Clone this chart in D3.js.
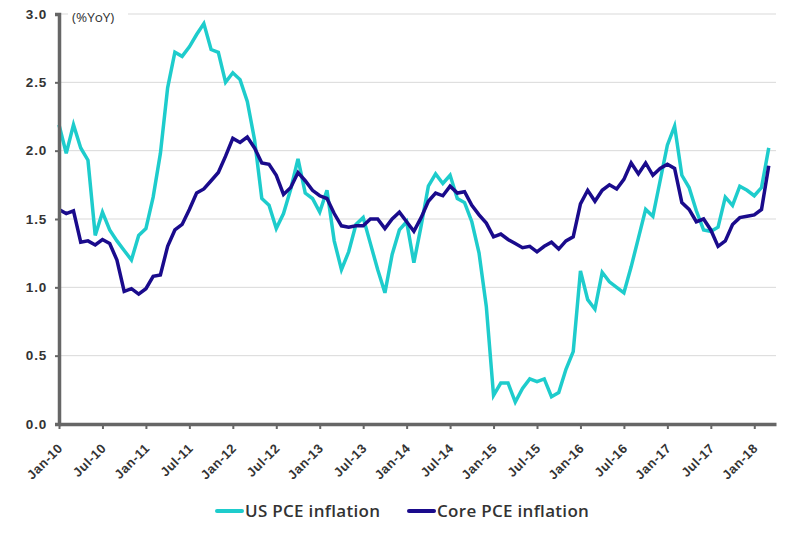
<!DOCTYPE html>
<html>
<head>
<meta charset="utf-8">
<script src="https://cdn.jsdelivr.net/npm/d3@7"></script>
<style>
  body { margin: 0; background: #fff; }
  svg { font-family: "Open Sans", "DejaVu Sans", sans-serif; }
</style>
</head>
<body>
<svg id="chart" width="800" height="534"></svg>
<script>
// --- Data (monthly, Jan-10 .. Mar-18) ---
const usPce = [
  2.19, 1.98, 2.19, 2.02, 1.93, 1.38, 1.55, 1.42, 1.34, 1.27, 1.20, 1.38,
  1.43, 1.66, 1.98, 2.46, 2.72, 2.69, 2.76, 2.85, 2.93, 2.74, 2.72, 2.50,
  2.57, 2.52, 2.36, 2.08, 1.65, 1.60, 1.43, 1.54, 1.72, 1.94, 1.69, 1.65,
  1.55, 1.71, 1.34, 1.13, 1.26, 1.46, 1.51, 1.32, 1.13, 0.96, 1.24, 1.42,
  1.48, 1.18, 1.45, 1.74, 1.83, 1.76, 1.82, 1.65, 1.62, 1.48, 1.25, 0.86,
  0.21, 0.30, 0.30, 0.16, 0.26, 0.33, 0.31, 0.33, 0.20, 0.23, 0.40, 0.53,
  1.12, 0.91, 0.84, 1.11, 1.04, 1.00, 0.96, 1.15, 1.36, 1.57, 1.52, 1.78,
  2.04, 2.18, 1.82, 1.73, 1.56, 1.42, 1.41, 1.44, 1.66, 1.60, 1.74, 1.71,
  1.67, 1.73, 2.02
];
const corePce = [
  1.57, 1.54, 1.56, 1.33, 1.34, 1.31, 1.35, 1.32, 1.20, 0.97, 0.99, 0.95,
  0.99, 1.08, 1.09, 1.30, 1.42, 1.46, 1.57, 1.69, 1.72, 1.78, 1.84, 1.96,
  2.09, 2.06, 2.10, 2.02, 1.91, 1.90, 1.82, 1.68, 1.73, 1.84, 1.78, 1.71,
  1.67, 1.65, 1.54, 1.45, 1.44, 1.45, 1.45, 1.50, 1.50, 1.43, 1.50, 1.55,
  1.48, 1.41, 1.51, 1.63, 1.69, 1.67, 1.74, 1.69, 1.70, 1.60, 1.53, 1.47,
  1.37, 1.39, 1.35, 1.32, 1.29, 1.30, 1.26, 1.30, 1.33, 1.28, 1.34, 1.37,
  1.61, 1.71, 1.63, 1.71, 1.75, 1.72, 1.79, 1.91, 1.83, 1.91, 1.82, 1.87,
  1.90, 1.87, 1.62, 1.57, 1.48, 1.50, 1.42, 1.30, 1.34, 1.46, 1.51, 1.52,
  1.53, 1.57, 1.89
];
const xTickLabels = ["Jan-10", "Jul-10", "Jan-11", "Jul-11", "Jan-12", "Jul-12",
  "Jan-13", "Jul-13", "Jan-14", "Jul-14", "Jan-15", "Jul-15", "Jan-16", "Jul-16",
  "Jan-17", "Jul-17", "Jan-18"];
const yTicks = [0, 0.5, 1.0, 1.5, 2.0, 2.5, 3.0];
const seriesNames = ["US PCE inflation", "Core PCE inflation"];
const colors = ["#1ecccc", "#1a0b8c"];

// --- Layout ---
const svg = d3.select("#chart"),
  margin = { top: 14, right: 24, bottom: 110, left: 59 },
  width = +svg.attr("width") - margin.left - margin.right,
  height = +svg.attr("height") - margin.top - margin.bottom,
  g = svg.append("g").attr("transform", `translate(${margin.left},${margin.top})`);

const x = d3.scaleLinear().domain([0, 99]).range([0, width]);
const y = d3.scaleLinear().domain([0, 3]).range([height, 0]);

// gridlines
g.append("g")
  .selectAll("line")
  .data(yTicks.filter(d => d > 0))
  .join("line")
  .attr("x1", 0).attr("x2", width)
  .attr("y1", d => y(d)).attr("y2", d => y(d))
  .attr("stroke", "#d9d9d9")
  .attr("stroke-width", 1);

// unit label with white backing over the top gridline
const unit = g.append("g").attr("transform", `translate(13,${y(3) + 4})`);
unit.append("rect").attr("x", -4).attr("y", -9).attr("width", 60).attr("height", 18).attr("fill", "#fff");
unit.append("text")
  .attr("x", 0).attr("y", 4)
  .style("font-size", "13.5px").style("font-weight", 500).attr("fill", "#333")
  .text("(%YoY)");

// lines
const line = d3.line().x((d, i) => x(i)).y(d => y(d));
[usPce, corePce].forEach((s, k) => {
  g.append("path")
    .datum(s)
    .attr("fill", "none")
    .attr("stroke", colors[k])
    .attr("stroke-width", 3.5)
    .attr("stroke-linejoin", "miter")
    .attr("d", line);
});

// y axis
const yAxis = g.append("g")
  .call(d3.axisLeft(y).tickValues(yTicks).tickFormat(d3.format(".1f")).tickSize(4).tickPadding(8));
yAxis.select(".domain").attr("stroke", "#666").attr("stroke-width", 3.5);
yAxis.selectAll(".tick line").attr("stroke", "#666").attr("stroke-width", 2);
yAxis.selectAll("text")
  .style("font-size", "13.5px").style("font-weight", 600).style("letter-spacing", "0.8px")
  .attr("fill", "#333");

// x axis
const xAxis = g.append("g")
  .attr("transform", `translate(0,${height})`)
  .call(d3.axisBottom(x)
    .tickValues(d3.range(0, 97, 6))
    .tickFormat((d, i) => xTickLabels[i])
    .tickSize(5).tickSizeOuter(0));
xAxis.select(".domain").attr("stroke", "#666").attr("stroke-width", 3.5);
xAxis.selectAll(".tick line").attr("stroke", "#666").attr("stroke-width", 2);
xAxis.selectAll("text")
  .style("font-size", "13px").style("font-weight", 600).style("letter-spacing", "0.5px")
  .attr("fill", "#333")
  .attr("text-anchor", "end")
  .attr("y", 0).attr("dy", 0)
  .attr("transform", "translate(4,25) rotate(-45)");

// legend
const legend = svg.append("g").attr("transform", "translate(215,511)");
const legendPos = [0, 192];
seriesNames.forEach((name, k) => {
  const lg = legend.append("g").attr("transform", `translate(${legendPos[k]},0)`);
  lg.append("line")
    .attr("x1", 2).attr("x2", 27).attr("y1", 0).attr("y2", 0)
    .attr("stroke", colors[k]).attr("stroke-width", 4).attr("stroke-linecap", "round");
  lg.append("text")
    .attr("x", 30).attr("y", 6)
    .style("font-size", "17px").style("font-weight", 600).style("letter-spacing", "0.3px")
    .attr("fill", "#333")
    .text(name);
});
</script>
</body>
</html>
